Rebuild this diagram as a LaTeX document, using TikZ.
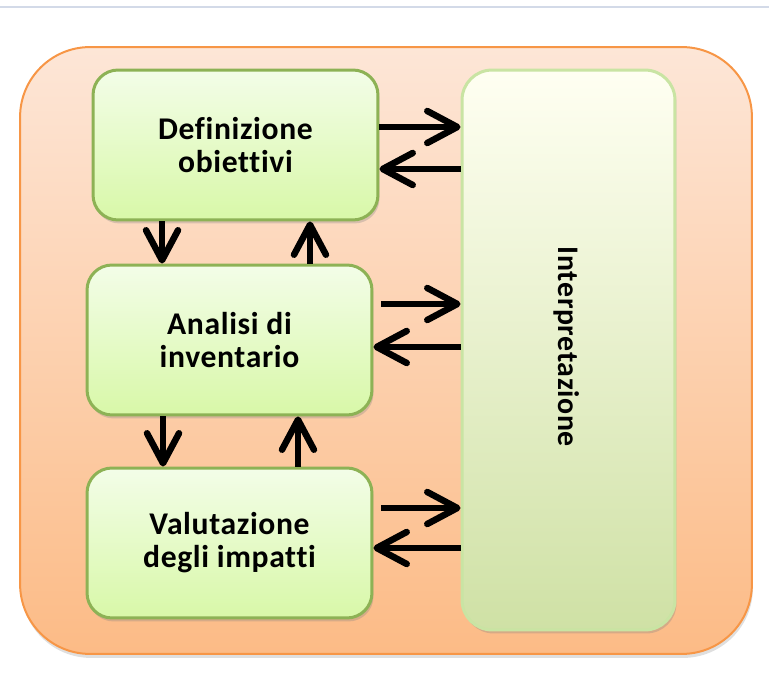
\documentclass[tikz,border=0pt]{standalone}
\usepackage{fontspec}
\setmainfont{Carlito}[Ligatures=NoCommon,LetterSpace=2]
\usepackage{tikz}
\usetikzlibrary{arrows.meta,shadows}

\definecolor{framefill}{HTML}{FDE6D7}
\definecolor{framebot}{HTML}{FCBB86}
\definecolor{frameline}{HTML}{F79646}
\definecolor{boxtop}{HTML}{F3FDE8}
\definecolor{boxbot}{HTML}{D8F8A8}
\definecolor{boxline}{HTML}{8DB255}
\definecolor{inttop}{HTML}{FFFFF2}
\definecolor{intbot}{HTML}{CFE1A5}
\definecolor{intline}{HTML}{C9E4A3}
\definecolor{topline}{HTML}{D3DAE8}

\tikzset{
  phase/.style={draw=boxline,line width=0.06cm,rounded corners=0.5cm,
    top color=boxtop,bottom color=boxbot,
    minimum width=5.7cm,minimum height=3cm,align=center,
    font=\fontsize{18pt}{18.8pt}\selectfont\bfseries,
    drop shadow={shadow xshift=0.03cm,shadow yshift=-0.07cm,opacity=0.3}},
  flow/.style={line width=0.13cm,
    -{Straight Barb[length=0.6cm,width=0.64cm,round]}}
}

\begin{document}
\begin{tikzpicture}[x=0.02cm,y=-0.02cm]
          \useasboundingbox (0,0) rectangle (769,685);
          \draw[topline,line width=0.04cm] (0,7) -- (769,7);
          \node[draw=frameline,line width=0.04cm,rounded corners=1.4cm,
                top color=framefill,bottom color=framebot,
                minimum width=14.64cm,minimum height=12.14cm,
                drop shadow={shadow xshift=0.02cm,shadow yshift=-0.08cm,opacity=0.25}]
                (frame) at (386,350.5) {};
          \node[draw=intline,line width=0.06cm,rounded corners=0.6cm,
                top color=inttop,bottom color=intbot,
                minimum width=4.26cm,minimum height=11.2cm,
                drop shadow={shadow xshift=0.03cm,shadow yshift=-0.07cm,opacity=0.3}]
                (interp) at (568.5,350) {};
          \node[rotate=-90,font=\fontsize{17pt}{18.8pt}\selectfont\bfseries]
                (interptext) at (567,347) {Interpretazione};
          \node[phase] (def) at (235.5,145) {Definizione\\obiettivi};
          \node[phase] (inv) at (229.5,340) {Analisi di\\inventario};
          \node[phase] (val) at (229.5,543) {Valutazione\\degli impatti};
          % between phases
          \draw[flow] ([xshift=-1.47cm]def.south) -- ([xshift=-1.47cm]def.south |- inv.north);
          \draw[flow] ([xshift=1.49cm]def.south |- inv.north) -- ([xshift=1.49cm]def.south);
          \draw[flow] ([xshift=-1.33cm]inv.south) -- ([xshift=-1.33cm]inv.south |- val.north);
          \draw[flow] ([xshift=1.37cm]inv.south |- val.north) -- ([xshift=1.37cm]inv.south);
          % to and from interpretation
          \draw[flow] ([yshift=0.36cm]def.east) -- ([yshift=0.36cm]def.east -| interp.west);
          \draw[flow] ([yshift=-0.48cm]def.east -| interp.west) -- ([yshift=-0.48cm]def.east);
          \draw[flow,shorten <=0.16cm] ([yshift=0.72cm]inv.east) -- ([yshift=0.72cm]inv.east -| interp.west);
          \draw[flow] ([yshift=-0.14cm]inv.east -| interp.west) -- ([yshift=-0.14cm]inv.east);
          \draw[flow,shorten <=0.16cm] ([yshift=0.70cm]val.east) -- ([yshift=0.70cm]val.east -| interp.west);
          \draw[flow] ([yshift=-0.10cm]val.east -| interp.west) -- ([yshift=-0.10cm]val.east);
        \end{tikzpicture}
\end{document}
